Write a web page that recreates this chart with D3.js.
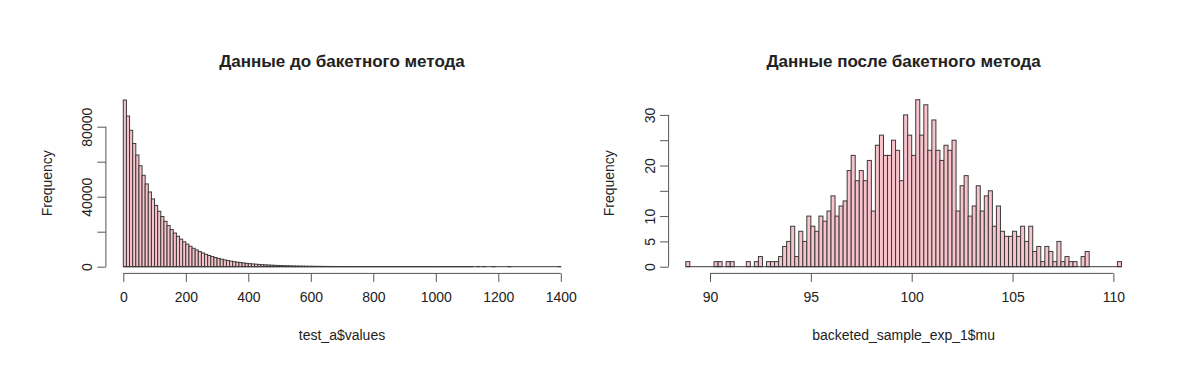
<!DOCTYPE html>
<html lang="ru">
<head>
<meta charset="utf-8">
<title>Бакетный метод</title>
<script src="https://d3js.org/d3.v7.min.js"></script>
<style>
  body { margin: 0; background: #fff; }
  text { font-family: "Liberation Sans", Arial, sans-serif; fill: #222; }
</style>
</head>
<body>
<script>
// left histogram: test_a$values, bins of width 10 from 0 to 1400
var leftStart = 0, leftWidth = 10;
var leftCounts = [
  95257, 86090, 77950, 70412, 63830, 57690, 52240, 47301, 42705, 38711,
  35030, 31650, 28690, 25921, 23480, 21212, 19230, 17371, 15744, 14219,
  12901, 11660, 10530, 9552, 8621, 7830, 7052, 6401, 5790, 5221,
  4745, 4290, 3866, 3522, 3170, 2880, 2591, 2362, 2120, 1931,
  1740, 1582, 1420, 1296, 1160, 1061, 950, 871, 779, 712,
  645, 574, 530, 470, 433, 384, 356, 313, 291, 258,
  240, 209, 195, 171, 160, 140, 131, 114, 108, 93,
  88, 79, 70, 62, 59, 51, 47, 44, 37, 33,
  31, 27, 24, 23, 19, 17, 16, 14, 12, 11,
  10, 9, 8, 7, 6, 6, 5, 5, 4, 4,
  3, 3, 3, 2, 2, 2, 1, 2, 1, 1,
  1, 1, 0, 1, 0, 1, 0, 0, 1, 0,
  0, 0, 0, 1, 0, 0, 0, 0, 0, 0,
  0, 0, 0, 0, 0, 0, 0, 0, 0, 1
];
var leftXTicks = [0, 200, 400, 600, 800, 1000, 1200, 1400];
var leftYTicks = [0, 20000, 40000, 60000, 80000];
var leftYLabels = ["0", "", "40000", "", "80000"];

// right histogram: backeted_sample_exp_1$mu, bins of width 0.2 from 88.8
var rightStart = 88.8, rightWidth = 0.2;
var rightCounts = [
  1, 0, 0, 0, 0, 0, 0, 1, 1, 0,
  1, 1, 0, 0, 0, 1, 0, 1, 2, 0,
  1, 1, 1, 2, 4, 5, 8, 2, 7, 5,
  10, 8, 7, 10, 9, 11, 14, 10, 12, 13,
  19, 22, 17, 19, 17, 21, 11, 24, 26, 22,
  22, 25, 23, 17, 30, 26, 22, 33, 26, 32,
  23, 29, 23, 21, 24, 23, 25, 11, 16, 18,
  10, 12, 16, 11, 14, 15, 8, 12, 7, 6,
  6, 7, 6, 8, 5, 8, 3, 4, 1, 4,
  3, 1, 5, 1, 2, 1, 1, 0, 2, 3,
  0, 0, 0, 0, 0, 0, 0, 1
];
var rightXTicks = [90, 95, 100, 105, 110];
var rightYTicks = [0, 5, 10, 15, 20, 25, 30];
var rightYLabels = ["0", "5", "10", "", "20", "", "30"];

var svg = d3.select("body").append("svg")
    .attr("width", 1199)
    .attr("height", 373);

function drawHist(opt) {
  var x = d3.scaleLinear().domain(opt.xDomain).range(opt.xRange);
  var y = d3.scaleLinear().domain(opt.yDomain).range([266.7, opt.yTop]);

  var bins = opt.counts.map(function (c, i) {
    return { x0: opt.start + i * opt.width, x1: opt.start + (i + 1) * opt.width, n: c };
  });

  var g = svg.append("g");

  //bars
  g.selectAll("rect.bar")
    .data(bins)
    .enter()
    .append("rect")
    .attr("class", "bar")
    .attr("x", function (d) { return x(d.x0); })
    .attr("width", function (d) { return x(d.x1) - x(d.x0); })
    .attr("y", function (d) { return y(d.n); })
    .attr("height", function (d) { return y(0) - y(d.n); })
    .attr("fill", "#f9c3cb")
    .attr("stroke", "#3a3a3a")
    .attr("stroke-width", 1);

  //empty bins are drawn as flat lines
  g.append("line")
    .attr("x1", x(bins[0].x0))
    .attr("x2", x(bins[bins.length - 1].x1))
    .attr("y1", y(0))
    .attr("y2", y(0))
    .attr("stroke", "#3a3a3a");

  //x axis
  var xa = g.append("g")
    .attr("transform", "translate(0,273.4)")
    .call(d3.axisBottom(x).tickValues(opt.xTicks).tickFormat(d3.format("d"))
      .tickSizeOuter(0).tickSize(8.5).tickPadding(10.5));
  xa.select(".domain").attr("d", "M" + x(opt.xTicks[0]) + ",0H" + x(opt.xTicks[opt.xTicks.length - 1]));
  xa.selectAll("line, path").attr("stroke", "#555");
  xa.selectAll("text").style("font-size", "14px").attr("fill", "#222");

  //y axis
  var ya = g.append("g")
    .attr("transform", "translate(" + opt.yAxisX + ",0)")
    .call(d3.axisLeft(y).tickValues(opt.yTicks).tickSizeOuter(0).tickSize(8.5)
      .tickFormat(function (d, i) { return opt.yLabels[i]; }));
  ya.select(".domain").attr("d", "M0," + y(opt.yTicks[0]) + "V" + y(opt.yTicks[opt.yTicks.length - 1]));
  ya.selectAll("line, path").attr("stroke", "#555");
  ya.selectAll("text")
    .attr("transform", "rotate(-90)")
    .attr("x", 0)
    .attr("y", -14)
    .attr("dy", null)
    .attr("text-anchor", "middle")
    .style("font-size", "14px")
    .attr("fill", "#222");

  //title
  svg.append("text")
    .attr("x", opt.cx)
    .attr("y", 67)
    .attr("text-anchor", "middle")
    .style("font-size", "17px")
    .style("font-weight", "bold")
    .text(opt.title);

  //x label
  svg.append("text")
    .attr("x", opt.cx)
    .attr("y", 340)
    .attr("text-anchor", "middle")
    .style("font-size", "14px")
    .text(opt.xLabel);

  //y label
  svg.append("text")
    .attr("transform", "translate(" + opt.yLabelX + ",183.2) rotate(-90)")
    .attr("text-anchor", "middle")
    .style("font-size", "14px")
    .text("Frequency");
}

drawHist({
  counts: leftCounts, start: leftStart, width: leftWidth,
  xDomain: [0, 1400], xRange: [123.3, 560.8],
  yDomain: [0, 80000], yTop: 126.7,
  xTicks: leftXTicks, yTicks: leftYTicks, yLabels: leftYLabels,
  yAxisX: 105.9, cx: 342, yLabelX: 52,
  title: "Данные до бакетного метода", xLabel: "test_a$values"
});

drawHist({
  counts: rightCounts, start: rightStart, width: rightWidth,
  xDomain: [90, 110], xRange: [710, 1113.4],
  yDomain: [0, 30], yTop: 114.9,
  xTicks: rightXTicks, yTicks: rightYTicks, yLabels: rightYLabels,
  yAxisX: 668.6, cx: 903.6, yLabelX: 614,
  title: "Данные после бакетного метода", xLabel: "backeted_sample_exp_1$mu"
});
</script>
</body>
</html>
